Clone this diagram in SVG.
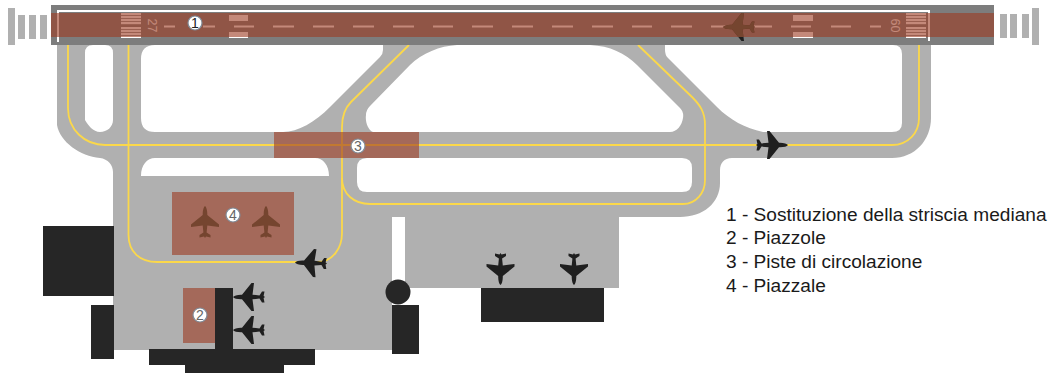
<svg xmlns="http://www.w3.org/2000/svg" width="1050" height="373" viewBox="0 0 1050 373">
<style>
.g{fill:#b0b0b0}
.k{fill:#262626}
.w{fill:#fff}
.y{fill:none;stroke:#fbd84a;stroke-width:1.8}
.o{fill:#9d3a21;fill-opacity:.6}
.c{fill:#fff;stroke:#7f8a96;stroke-width:1.2}
.b{fill:#75452f}
.d{fill:#1f1f1f}
.n{font-family:"Liberation Sans",Arial,sans-serif;font-size:14px;fill:#666;text-anchor:middle}
.r{font-family:"Liberation Sans",Arial,sans-serif;font-size:12.500px;fill:#fff}
.l{font-family:"Liberation Sans",Arial,sans-serif;font-size:19.100px;fill:#1a1a1a}
</style>
<defs>
<path id="plane" d="M0,-16C1.300,-15 2.300,-12 2.300,-8L2.300,-7L14,2.500L14,5L2.300,3.500L1.600,10.500L5.500,13L5.500,15.500L1,14.600L0,16L-1,14.600L-5.500,15.500L-5.500,13L-1.600,10.500L-2.300,3.500L-14,5L-14,2.500L-2.300,-7L-2.300,-8C-2.300,-12 -1.300,-15 0,-16Z"/>
<clipPath id="band"><rect x="51" y="13" width="943" height="24"/></clipPath>
<g id="thr"><rect x="0" y="0" width="20" height="2.200"/><rect x="0" y="3" width="20" height="2.200"/><rect x="0" y="6" width="20" height="2.200"/><rect x="0" y="9" width="20" height="2.200"/><rect x="0" y="14" width="20" height="2.200"/><rect x="0" y="17" width="20" height="2.200"/><rect x="0" y="20" width="20" height="2.200"/><rect x="0" y="23" width="20" height="2"/></g>
</defs>

<g id="ground">
<path class="g" fill-rule="evenodd" d="M57,40L57,125C60,142 80,156 100,158C108,159 113,165 113,172L113,350L392,350L392,217L405,217L405,288L619,288L619,217L680,217C703,217 720,203 720,183L720,170C720,163 724,158 732,158L892,158C915,158 931,140 931,118L931,40Z
M93,45L105,45Q113,45 113,53L113,120C113,127 107,132 100,132C93,132 88,125 85,120L85,53Q85,45 93,45Z
M155,45L383,45L383,50Q383,54 380,57L330,107C315,122 298,132 283,132L155,132Q141,132 141,118L141,59Q141,45 155,45Z
M457,45L590,45C610,46 625,53 637,65L680,108Q684,112 683,118C682,125 677,132 670,132L373,132C368,130 365,122 366,115Q366,110 370,106L410,65C422,53 440,46 457,45Z
M665,45L893,45Q902,45 902,54L902,123Q902,132 892,132L763,132C745,128 730,120 717,107L668,58Q665,55 665,50Z
M155,158L315,158C323,158 329,165 329,176L141,176C141,165 147,158 155,158Z
M367,158L682,158Q692,158 692,168L692,182Q692,192 682,192L367,192Q357,192 357,182L357,168Q357,158 367,158Z"/>
</g>

<g id="lights" class="g">
<rect x="8" y="8" width="7" height="37"/><rect x="18" y="15" width="7" height="24"/><rect x="29" y="15" width="7" height="24"/><rect x="40" y="15" width="7" height="24"/>
<rect x="1000" y="14" width="7" height="24"/><rect x="1010" y="14" width="7" height="24"/><rect x="1022" y="14" width="7" height="24"/><rect x="1032" y="8" width="7" height="37"/>
</g>

<g id="connectors">
<path class="y" d="M68,45L68,108C68,130 85,145 105,145L892,145C908,145 919,133 919,118L919,45"/>
<path class="y" d="M128.500,45L128.500,235C128.500,252 140,262 157,262L317,262C333,262 342,248 342,233L342,127C342,118 345,108 351,102L409,45"/>
<path class="y" d="M342,178C342,194 354,204 370,204L683,204C696,204 705,193 705,180L705,125C705,112 700,105 692,97L638,45"/>
</g>

<g id="runway">
<rect x="51" y="5" width="943" height="40" fill="#7d7d7d"/>
<path d="M58,42L58,11L929,11L929,41" fill="none" stroke="#fff" stroke-width="2"/>
<g class="w">
<use href="#thr" x="121" y="13"/><use href="#thr" x="906" y="13"/>
<rect x="229" y="15" width="19" height="6"/><rect x="229" y="32" width="19" height="6"/>
<rect x="793" y="15" width="20" height="6"/><rect x="793" y="32" width="20" height="6"/>
<path d="M164,25.500h11v2h-11zM203,25.500h12v2h-12zM234,25.500h20v2h-20zM273,25.500h21v2h-21zM313,25.500h21v2h-21zM353,25.500h21v2h-21zM393,25.500h21v2h-21zM433,25.500h20v2h-20zM472,25.500h21v2h-21zM512,25.500h21v2h-21zM552,25.500h21v2h-21zM592,25.500h21v2h-21zM632,25.500h20v2h-20zM671,25.500h21v2h-21zM711,25.500h21v2h-21zM751,25.500h21v2h-21zM791,25.500h20v2h-20zM831,25.500h20v2h-20zM870,25.500h11v2h-11z"/>
</g>
<text class="r" transform="translate(147.500,18.500) rotate(90)">27</text>
<text class="r" transform="translate(899.500,32.500) rotate(-90)">09</text>
<use class="d" href="#plane" transform="translate(739,27) rotate(-90)"/>
</g>

<g id="buildings" class="k">
<rect x="43" y="226" width="71" height="70"/>
<rect x="91" y="305" width="23" height="54"/>
<rect x="215" y="288" width="18" height="62"/>
<rect x="149" y="349" width="166" height="16"/>
<rect x="185" y="365" width="99" height="8"/>
<circle cx="398" cy="292" r="12.500"/>
<rect x="392" y="305" width="27" height="49"/>
<rect x="481" y="288" width="123" height="34"/>
</g>

<g id="planes" class="d">
<use href="#plane" transform="translate(772,145) rotate(90)"/>
<use href="#plane" transform="translate(311,263) rotate(-88)"/>
<use href="#plane" transform="translate(249,297) rotate(-90)"/>
<use href="#plane" transform="translate(249,330) rotate(-90)"/>
<use href="#plane" transform="translate(500.500,269) rotate(180)"/>
<use href="#plane" transform="translate(574,269) rotate(180)"/>
</g>

<g id="overlays">
<rect id="area-1" class="o" x="51" y="13" width="943" height="24"/>
<rect id="area-3" class="o" x="274" y="132" width="145" height="26"/>
<rect id="area-4" class="o" x="172" y="192" width="122" height="63"/>
<rect id="area-2" class="o" x="183" y="288" width="32" height="55"/>
</g>

<g id="tinted-planes" class="b">
<g clip-path="url(#band)"><use href="#plane" transform="translate(739,27) rotate(-90)"/></g>
<use href="#plane" transform="translate(205,222)"/>
<use href="#plane" transform="translate(266,222)"/>
</g>

<g id="marker-1"><circle class="c" cx="195" cy="23" r="7"/><text class="n" x="195" y="28" style="fill:#222">1</text></g>
<g id="marker-2"><circle class="c" cx="200" cy="315" r="7"/><text class="n" x="200" y="320">2</text></g>
<g id="marker-3"><circle class="c" cx="358" cy="146" r="7"/><text class="n" x="358" y="151">3</text></g>
<g id="marker-4"><circle class="c" cx="233" cy="215" r="7"/><text class="n" x="233" y="220">4</text></g>

<g id="legend">
<text class="l" x="726" y="221">1 - Sostituzione della striscia mediana</text>
<text class="l" x="726" y="244">2 - Piazzole</text>
<text class="l" x="726" y="268">3 - Piste di circolazione</text>
<text class="l" x="726" y="292">4 - Piazzale</text>
</g>
</svg>
